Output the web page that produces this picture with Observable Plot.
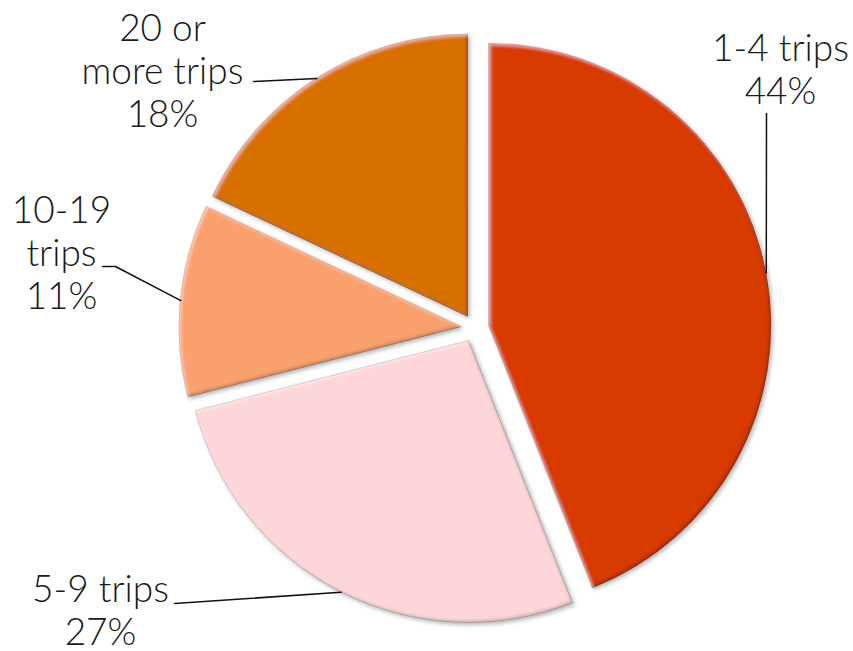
<!DOCTYPE html>
<html>
<head>
<meta charset="utf-8">
<script src="https://cdn.jsdelivr.net/npm/d3@7"></script>
<script src="https://cdn.jsdelivr.net/npm/@observablehq/plot@0.6"></script>
<style>
  html, body { margin: 0; padding: 0; background: #fff; }
  #chart svg { display: block; }
</style>
</head>
<body>
<div id="chart"></div>
<script>
// ---- data ----
const categories = ["1-4 trips", "5-9 trips", "10-19 trips", "20 or more trips"];
const shares = [44, 27, 11, 18];
const labelNames = ["1-4 trips", "5-9 trips", "10-19\ntrips", "20 or\nmore trips"];
const sliceColors = ["#D83A03", "#FCD6D8", "#FAA06E", "#D86F06"];

// ---- layout (units: pixels relative to pie centre, y downward) ----
const W = 853, H = 651;
const CX = 475, CY = 328;          // pie centre in the frame
const R = 282;                      // pie radius
const EXPLODE = 14;                 // slice explosion distance
const labelAnchor = [               // centre x, baseline of last line
  {x: 305, y: -225},
  {x: -375, y: 316},
  {x: -414, y: -20},
  {x: -313, y: -202}
];
const leaderStart = [               // leader points on the label side
  [{x: 291, y: -215}],
  [{x: -301, y: 275}],
  [{x: -373, y: -62}, {x: -360, y: -62}],
  [{x: -222, y: -247}]
];

// ---- derived ----
const pie = d3.pie().sort(null).value(d => d)(shares);
const slices = pie.map((p, i) => {
  const mid = (p.startAngle + p.endAngle) / 2;
  return {
    category: categories[i],
    share: shares[i],
    color: sliceColors[i],
    startAngle: p.startAngle,
    endAngle: p.endAngle,
    dx: Math.sin(mid), dy: -Math.cos(mid)
  };
});

const labels = slices.map((s, i) => ({
  x: labelAnchor[i].x, y: labelAnchor[i].y,
  text: `${labelNames[i]}\n${s.share}%`
}));

const leaders = slices.flatMap((s, i) => [
  ...leaderStart[i].map(p => ({...p, k: s.category})),
  {x: (R + EXPLODE) * s.dx, y: (R + EXPLODE) * s.dy, k: s.category}
]);

// custom pie mark drawn through the plot's own x/y scales
function pieMark(index, scales) {
  const {x, y} = scales;
  const g = d3.create("svg:g");
  const defs = g.append("defs");
  const f = defs.append("filter").attr("id", "bevel")
    .attr("x", "-10%").attr("y", "-10%").attr("width", "125%").attr("height", "125%");
  f.append("feGaussianBlur").attr("in", "SourceAlpha").attr("stdDeviation", 1.8).attr("result", "blur");
  f.append("feOffset").attr("in", "blur").attr("dx", -2.2).attr("dy", -2.2).attr("result", "ob1");
  f.append("feComposite").attr("in", "SourceAlpha").attr("in2", "ob1").attr("operator", "arithmetic")
    .attr("k1", 0).attr("k2", 1).attr("k3", -1).attr("k4", 0).attr("result", "brEdge");
  f.append("feOffset").attr("in", "blur").attr("dx", 2.2).attr("dy", 2.2).attr("result", "ob2");
  f.append("feComposite").attr("in", "SourceAlpha").attr("in2", "ob2").attr("operator", "arithmetic")
    .attr("k1", 0).attr("k2", 1).attr("k3", -1).attr("k4", 0).attr("result", "tlEdge");
  f.append("feFlood").attr("flood-color", "#000").attr("flood-opacity", 0.35).attr("result", "dark");
  f.append("feComposite").attr("in", "dark").attr("in2", "brEdge").attr("operator", "in").attr("result", "shade");
  f.append("feFlood").attr("flood-color", "#fff").attr("flood-opacity", 0.4).attr("result", "light");
  f.append("feComposite").attr("in", "light").attr("in2", "tlEdge").attr("operator", "in").attr("result", "hl");
  f.append("feGaussianBlur").attr("in", "SourceAlpha").attr("stdDeviation", 2).attr("result", "sb");
  f.append("feOffset").attr("in", "sb").attr("dx", 1.5).attr("dy", 2).attr("result", "sbo");
  f.append("feColorMatrix").attr("in", "sbo").attr("type", "matrix")
    .attr("values", "0 0 0 0 0  0 0 0 0 0  0 0 0 0 0  0 0 0 0.3 0").attr("result", "drop");
  const m = f.append("feMerge");
  ["drop", "SourceGraphic", "shade", "hl"].forEach(n => m.append("feMergeNode").attr("in", n));

  const rPx = Math.abs(x(R) - x(0));
  const arc = d3.arc().innerRadius(0).outerRadius(rPx);
  for (const s of slices) {
    g.append("path")
      .attr("transform", `translate(${x(EXPLODE * s.dx)},${y(EXPLODE * s.dy)})`)
      .attr("d", arc({startAngle: s.startAngle, endAngle: s.endAngle}))
      .attr("fill", s.color)
      .attr("stroke", d3.color(s.color).darker(1.2))
      .attr("stroke-width", 0.8)
      .attr("stroke-opacity", 0.7)
      .attr("filter", "url(#bevel)");
  }
  return g.node();
}

const chart = Plot.plot({
  width: W,
  height: H,
  margin: 0,
  x: {domain: [-CX, W - CX], axis: null},
  y: {domain: [-CY, H - CY], reverse: true, axis: null},
  style: {background: "#fff", overflow: "visible"},
  marks: [
    pieMark,
    Plot.line(leaders, {x: "x", y: "y", z: "k", stroke: "#111", strokeWidth: 1.5, curve: "linear"}),
    Plot.text(labels, {
      x: "x", y: "y", text: "text",
      textAnchor: "middle", lineAnchor: "bottom",
      fontSize: 37, lineHeight: 43 / 37,
      fontFamily: "Lato, 'Open Sans', sans-serif", fontWeight: 300,
      fill: "#1a1a1a"
    })
  ]
});
document.getElementById("chart").appendChild(chart);
</script>
</body>
</html>
